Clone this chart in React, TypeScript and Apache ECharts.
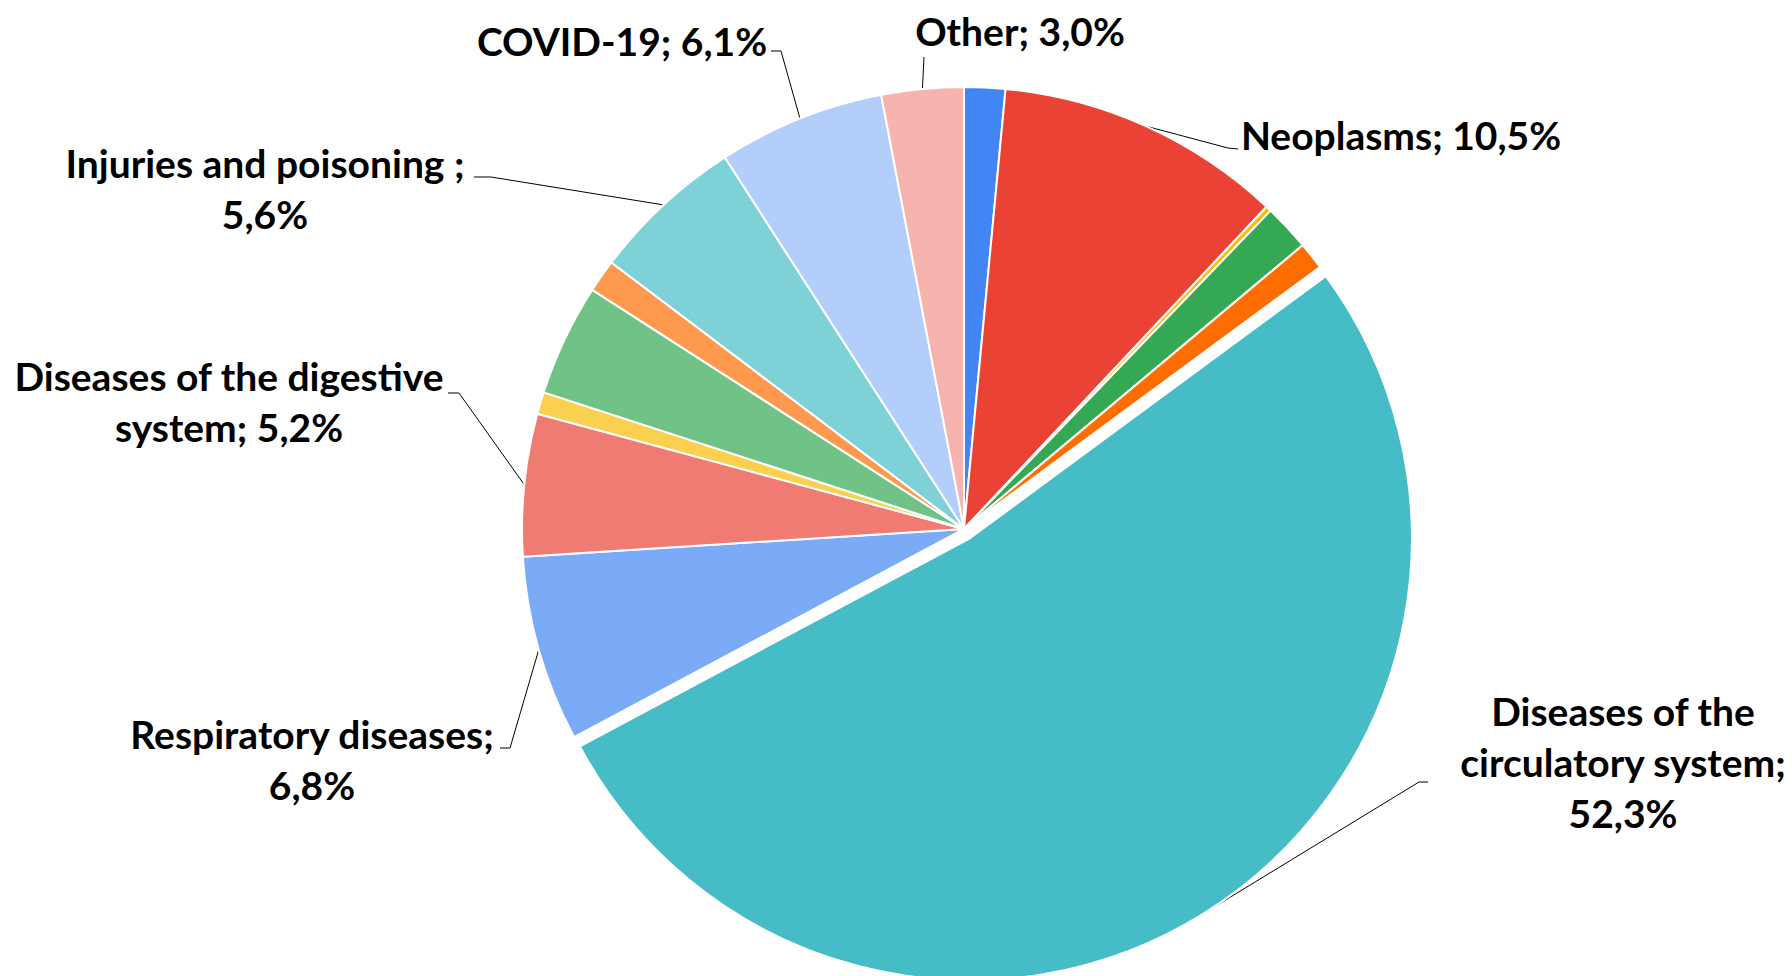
import React, { useEffect, useRef } from "react";
import * as echarts from "echarts";

// ---- Data (clockwise from 12 o'clock) ----
const categories = [
  "Infectious and parasitic diseases",
  "Neoplasms",
  "Diseases of the blood",
  "Endocrine and metabolic diseases",
  "Mental and behavioural disorders",
  "Diseases of the circulatory system",
  "Respiratory diseases",
  "Diseases of the digestive system",
  "Diseases of the skin",
  "Diseases of the nervous system",
  "Diseases of the genitourinary system",
  "Injuries and poisoning",
  "COVID-19",
  "Other",
];
const values = [1.5, 10.5, 0.2, 1.7, 1.0, 52.3, 6.8, 5.2, 0.8, 4.1, 1.2, 5.6, 6.1, 3.0];
// Label text (empty = no label); "\n" marks where the label wraps
const labelNames = [
  "",
  "Neoplasms",
  "",
  "",
  "",
  "Diseases of the\ncirculatory system",
  "Respiratory diseases",
  "Diseases of the digestive\nsystem",
  "",
  "",
  "",
  "Injuries and poisoning ",
  "COVID-19",
  "Other",
];
const valueOnNewLine = [false, false, false, false, false, true, true, false, false, false, false, true, false, false];
const explodedIndex = 5;

// ---- Styling / layout ----
const colors = [
  "#4285F4", "#EA4335", "#FBBC04", "#34A853", "#FF6D01", "#46BDC6", "#7BAAF7",
  "#F07B72", "#FCD04F", "#71C287", "#FF994D", "#7ED1D7", "#B3CEFB", "#F7B4AE",
];
const CX = 964;
const CY = 529;
const R = 442;
const OFFSET = 11;

// label placement: text block centre x, block top y, leader bend & end points
const placements: Record<number, { x: number; y: number; bend: number[]; end: number[] }> = {
  1: { x: 1401, y: 109, bend: [1228, 148], end: [1238, 149] },
  5: { x: 1623, y: 685, bend: [1419, 782], end: [1428, 782] },
  6: { x: 312, y: 708, bend: [510, 748], end: [500, 748] },
  7: { x: 229, y: 350, bend: [459, 393], end: [448, 393] },
  11: { x: 265, y: 137, bend: [491, 177], end: [474, 177] },
  12: { x: 622, y: 15, bend: [781, 51], end: [771, 51] },
  13: { x: 1020, y: 5, bend: [924, 57], end: [924, 57] },
};

function fmt(v: number) {
  return v.toFixed(1).replace(".", ",") + "%";
}

export default function App() {
  const ref = useRef<HTMLDivElement>(null);
  useEffect(() => {
    if (!ref.current) return;
    const chart = echarts.init(ref.current, null, { renderer: "svg" });
    const total = values.reduce((a, b) => a + b, 0);
    const mids: number[] = [];
    let acc = 0;
    values.forEach((v) => {
      mids.push(((acc + v / 2) / total) * Math.PI * 2);
      acc += v;
    });
    const ex = OFFSET * Math.sin(mids[explodedIndex]);
    const ey = -OFFSET * Math.cos(mids[explodedIndex]);

    const makeData = (exploded: boolean) =>
      categories.map((name, i) => {
        const visible = (i === explodedIndex) === exploded;
        const shown = visible && labelNames[i] !== "";
        return {
          name,
          value: values[i],
          itemStyle: visible
            ? { color: colors[i] }
            : { color: "rgba(0,0,0,0)", borderWidth: 0, opacity: 0 },
          label: { show: shown },
          labelLine: { show: shown },
        };
      });

    const common = (cx: number, cy: number) => ({
      type: "pie",
      center: [cx, cy],
      radius: R,
      startAngle: 90,
      clockwise: true,
      avoidLabelOverlap: false,
      silent: true,
      itemStyle: { borderColor: "#ffffff", borderWidth: 2 },
      label: {
        show: true,
        position: "outside",
        fontFamily: "Lato",
        fontWeight: "bold",
        fontSize: 39,
        lineHeight: 51,
        color: "#000000",
        formatter: (p: any) => {
          const i = p.dataIndex;
          return labelNames[i] + ";" + (valueOnNewLine[i] ? "\n" : " ") + fmt(values[i]);
        },
      },
      labelLine: {
        show: true,
        length: 10,
        length2: 10,
        smooth: false,
        lineStyle: { color: "#000000", width: 1 },
      },
      labelLayout: (params: any) => {
        const i = params.dataIndex;
        const pl = placements[i];
        if (!pl) return {};
        const a = mids[i];
        const sx = cx + R * Math.sin(a);
        const sy = cy - R * Math.cos(a);
        return {
          x: pl.x,
          y: pl.y,
          align: "center",
          verticalAlign: "top",
          labelLinePoints: [[sx, sy], pl.bend, pl.end],
        };
      },
    });

    chart.setOption({
      animation: false,
      backgroundColor: "#ffffff",
      series: [
        { ...common(CX, CY), data: makeData(false) },
        { ...common(CX + ex, CY + ey), data: makeData(true) },
      ],
    });
    return () => chart.dispose();
  }, []);
  return (
    <div
      ref={ref}
      style={{ position: "absolute", left: 0, top: 0, width: 1792, height: 976, background: "#fff" }}
    />
  );
}
